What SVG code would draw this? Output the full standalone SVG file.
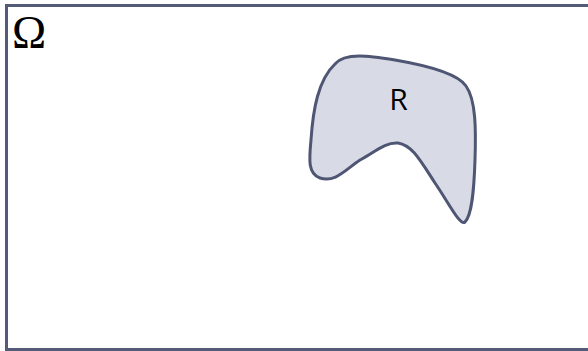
<svg xmlns="http://www.w3.org/2000/svg" width="588" height="351" viewBox="0 0 588 351">
<style>
.frame{fill:none;stroke:#535b78;stroke-width:3}
.region{fill:#d8dbe6;stroke:#4f5673;stroke-width:3;stroke-linejoin:round}
.lbl{font-family:"Open Sans","Liberation Sans",sans-serif;font-size:30px;fill:#000}
.omega{font-family:"Liberation Serif",serif;font-size:46px;fill:#000}
</style>
<rect width="588" height="351" fill="#fff"/>
<g id="domain">
<rect class="frame" x="6.5" y="5.5" width="600" height="344"/>
<text class="omega" x="12" y="48">Ω</text>
</g>
<g id="connectors"/>
<g id="R">
<path class="region" d="M335,64 C345,52 370,56 395,60 C430,66 458,74 466,86 C476,100 476,130 475,160 C474,190 472,215 465,222 C460,226 450,205 435,183 C420,160 412,145 398,143 C385,142 375,152 360,160 C345,170 335,183 320,178 C308,174 309,160 311,140 C313,110 318,80 335,64 Z"/>
<text class="lbl" x="398.5" y="110" text-anchor="middle">R</text>
</g>
</svg>
